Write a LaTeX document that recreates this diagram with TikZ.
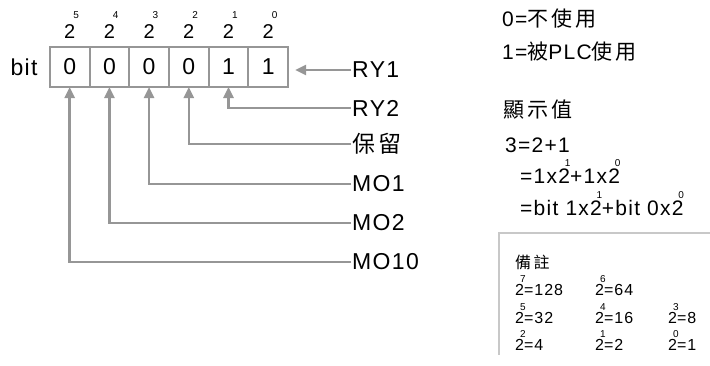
\documentclass[tikz,border=0pt]{standalone}
\usepackage{fontspec}
\usepackage{tikz}
\setmainfont{Liberation Sans}[LetterSpace=6]
\newfontfamily\cjk{Noto Sans CJK TC}[LetterSpace=15]
\usetikzlibrary{arrows.meta, positioning, calc}
\definecolor{linegray}{RGB}{150, 150, 150}
\definecolor{boxgray}{RGB}{200, 200, 200}
\newcommand{\fsz}[1]{\fontsize{#1}{#1}\selectfont}
% a 2 with its exponent set over it
\newcommand{\twoto}[2][0.8em]{2\kern-0.25em\rlap{\raisebox{#1}[0pt][0pt]{\fsz{10}#2}}\kern0.25em}
% the weights over the bits
\newcommand{\twotop}[1]{2\rlap{\kern-2pt\raisebox{20pt}[0pt][0pt]{\fsz{10}#1}}}

\begin{document}
\begin{tikzpicture}[
    x=1pt, y=-1pt,
    cell/.style={rectangle, draw=linegray, line width=2pt, minimum width=39.7pt,
                 minimum height=40pt, inner sep=0pt, outer sep=0pt, font=\fsz{23}},
    pow/.style={inner sep=0pt, font=\fsz{20}},
    lbl/.style={anchor=west, inner sep=1pt, font=\fsz{23}},
    txt/.style={anchor=west, inner sep=0pt, font=\fsz{21}},
    note/.style={anchor=west, inner sep=0pt, font=\fsz{16}},
    arrow/.style={-{Triangle[length=11pt, width=10pt]}, line width=2.5pt, linegray}
]
\useasboundingbox (0,0) rectangle (710,365);

% Bits
\node[cell] (b5) at (69.7,67) {0};
\node[cell, right=0pt of b5] (b4) {0};
\node[cell, right=0pt of b4] (b3) {0};
\node[cell, right=0pt of b3] (b2) {0};
\node[cell, right=0pt of b2] (b1) {1};
\node[cell, right=0pt of b1] (b0) {1};
\node[left=12pt of b5, inner sep=0pt, font=\fsz{23}] (bit) {bit};

% Weights
\node[pow] (p5) at ($(b5.north)+(0,-15)$) {\twotop{5}};
\node[pow] (p4) at ($(b4.north)+(0,-15)$) {\twotop{4}};
\node[pow] (p3) at ($(b3.north)+(0,-15)$) {\twotop{3}};
\node[pow] (p2) at ($(b2.north)+(0,-15)$) {\twotop{2}};
\node[pow] (p1) at ($(b1.north)+(0,-15)$) {\twotop{1}};
\node[pow] (p0) at ($(b0.north)+(0,-15)$) {\twotop{0}};

% Sources
\node[lbl] (ry1) at (351,70) {RY1};
\node[lbl] (ry2) at (351,108) {RY2};
\node[lbl] (rsv) at (351,144) {\cjk 保留};
\node[lbl] (mo1) at (351,184) {MO1};
\node[lbl] (mo2) at (351,223) {MO2};
\node[lbl] (mo10) at (351,262) {MO10};

\draw[arrow, shorten >=7pt] (ry1.west) -- (ry1.west -| b0.east);
\draw[arrow] (ry2.west) -| (b1.south);
\draw[arrow] (rsv.west) -| (b2.south);
\draw[arrow] (mo1.west) -| (b3.south);
\draw[arrow] (mo2.west) -| (b4.south);
\draw[arrow] (mo10.west) -| (b5.south);

% Legend
\node[txt] (key0) at (502,19) {0={\cjk 不使用}};
\node[txt] (key1) at (502,52) {1={\cjk 被}PLC{\cjk 使用}};
\node[txt] (disp) at (503,110) {\cjk 顯示值};
\node[txt] (eq1) at (505,145) {3=2+1};
\node[txt] (eq2) at (520,176) {=1x\twoto{1}+1x\twoto{0}};
\node[txt] (eq3) at (520,208) {=bit 1x\twoto{1}+bit 0x\twoto{0}};

% Note
\coordinate (nc) at (499,233);
\draw[boxgray, line width=1.5pt] (710,233) -- (nc) -- ++(0,122);
\node[note] (ntitle) at (515,262) {\cjk 備註};
\node[note] (n7) at (515,290) {\twoto{7}=128};
\node[note] (n6) at (595,290) {\twoto{6}=64};
\node[note] (n5) at (515,318) {\twoto{5}=32};
\node[note] (n4) at (595,318) {\twoto{4}=16};
\node[note] (n3) at (668,318) {\twoto{3}=8};
\node[note] (n2) at (515,345) {\twoto{2}=4};
\node[note] (n1) at (595,345) {\twoto{1}=2};
\node[note] (n0) at (668,345) {\twoto{0}=1};

\end{tikzpicture}
\end{document}
